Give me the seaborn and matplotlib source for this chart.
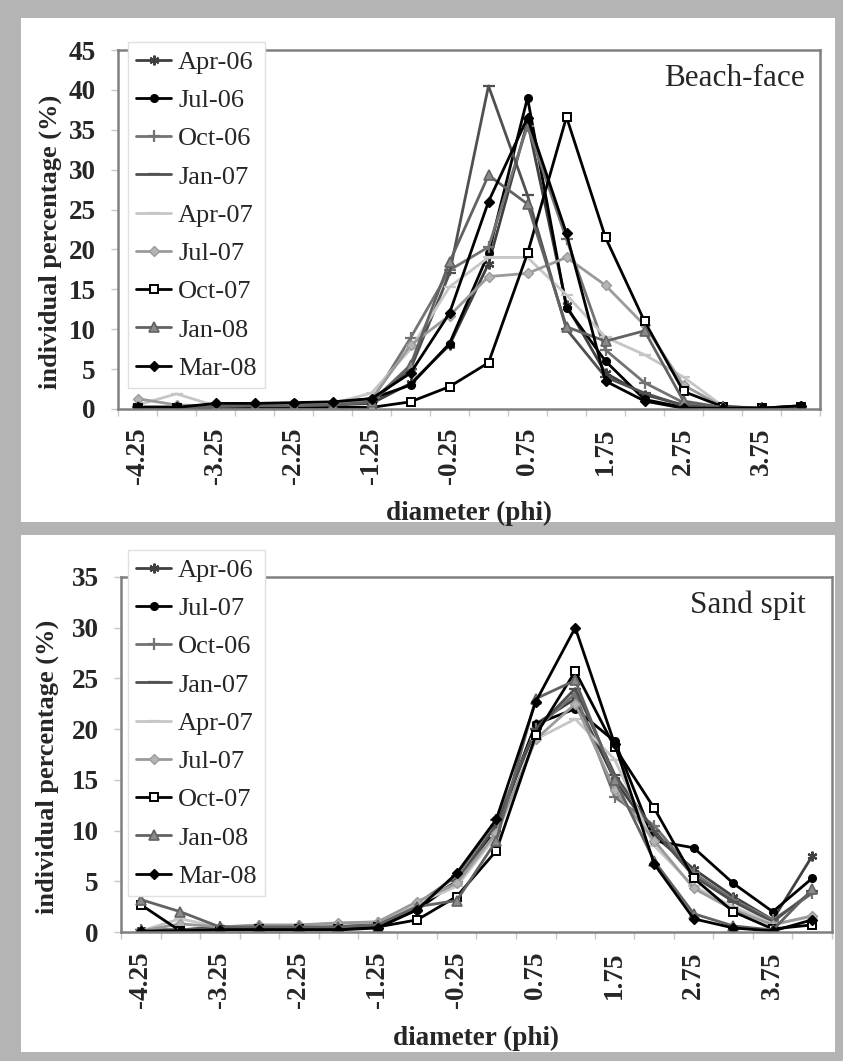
import numpy as np
import pandas as pd
import matplotlib
matplotlib.use("Agg")
import matplotlib.pyplot as plt
import seaborn as sns
from matplotlib.patches import Rectangle
from matplotlib.ticker import FixedLocator, NullFormatter

# ---------------- data ----------------
diameter = [-4.25, -3.75, -3.25, -2.75, -2.25, -1.75, -1.25, -0.75, -0.25,
            0.25, 0.75, 1.25, 1.75, 2.25, 2.75, 3.25, 3.75, 4.25]

beach_names = ["Apr-06", "Jul-06", "Oct-06", "Jan-07", "Apr-07",
               "Jul-07", "Oct-07", "Jan-08", "Mar-08"]
beach_apr06 = [0.1, 0.1, 0.3, 0.4, 0.5, 0.5, 0.7, 3.2, 8.0, 18.2, 36.0, 13.0, 4.5, 1.8, 0.5, 0.1, 0.1, 0.3]
beach_jul06 = [0.1, 0.1, 0.6, 0.6, 0.7, 0.8, 1.3, 3.0, 8.2, 19.5, 39.0, 12.7, 6.0, 1.2, 0.2, 0.1, 0.1, 0.4]
beach_oct06 = [0.3, 0.3, 0.4, 0.5, 0.5, 0.6, 1.0, 8.9, 17.4, 20.3, 35.5, 21.3, 7.4, 3.3, 0.8, 0.2, 0.1, 0.3]
beach_jan07 = [0.2, 0.2, 0.3, 0.4, 0.4, 0.5, 0.9, 5.0, 17.0, 40.5, 26.8, 10.0, 4.0, 2.0, 0.4, 0.1, 0.1, 0.2]
beach_apr07 = [0.5, 1.9, 0.4, 0.5, 0.5, 0.7, 2.0, 7.5, 15.3, 19.0, 19.0, 14.3, 9.0, 6.8, 4.0, 0.4, 0.1, 0.2]
beach_jul07 = [1.3, 0.5, 0.4, 0.4, 0.4, 0.5, 1.2, 8.0, 11.7, 16.6, 17.0, 19.0, 15.5, 10.5, 3.0, 0.3, 0.1, 0.2]
beach_oct07 = [0.1, 0.1, 0.2, 0.2, 0.2, 0.2, 0.2, 0.9, 2.8, 5.8, 19.5, 36.6, 21.5, 11.0, 2.2, 0.3, 0.1, 0.2]
beach_jan08 = [0.2, 0.2, 0.3, 0.4, 0.4, 0.5, 0.9, 5.5, 18.4, 29.3, 25.7, 10.3, 8.5, 9.8, 1.0, 0.2, 0.1, 0.2]
beach_mar08 = [0.2, 0.2, 0.7, 0.7, 0.8, 0.9, 1.3, 4.5, 12.0, 26.0, 36.5, 22.0, 3.5, 1.0, 0.1, 0.1, 0.1, 0.4]

spit_names = ["Apr-06", "Jul-07", "Oct-06", "Jan-07", "Apr-07",
              "Jul-07", "Oct-07", "Jan-08", "Mar-08"]
spit_apr06 = [0.2, 0.2, 0.4, 0.5, 0.5, 0.5, 0.7, 2.5, 5.0, 10.5, 20.5, 23.0, 15.0, 9.5, 6.2, 3.5, 1.2, 7.5]
spit_jul07b = [0.1, 0.1, 0.3, 0.3, 0.3, 0.3, 0.5, 2.2, 5.0, 10.0, 20.5, 22.0, 18.8, 9.0, 8.3, 4.8, 2.0, 5.3]
spit_oct06 = [0.2, 0.2, 0.5, 0.6, 0.6, 0.7, 0.9, 2.8, 5.5, 11.0, 20.0, 23.5, 13.3, 10.5, 5.8, 3.2, 1.2, 3.8]
spit_jan07 = [0.2, 0.2, 0.5, 0.6, 0.6, 0.7, 0.9, 2.6, 5.0, 10.5, 20.0, 24.0, 15.5, 10.0, 5.5, 3.0, 1.0, 4.0]
spit_apr07 = [0.1, 1.3, 0.5, 0.6, 0.6, 0.8, 1.0, 2.8, 4.5, 9.5, 19.0, 21.0, 17.0, 8.5, 4.5, 2.5, 0.8, 1.5]
spit_jul07 = [0.1, 0.8, 0.5, 0.7, 0.7, 0.9, 1.0, 3.0, 4.8, 9.8, 19.0, 22.5, 14.0, 9.0, 4.3, 2.2, 0.7, 1.6]
spit_oct07 = [2.7, 0.1, 0.2, 0.3, 0.3, 0.3, 0.5, 1.2, 3.5, 8.0, 19.4, 25.7, 18.2, 12.2, 5.3, 2.0, 0.3, 0.7]
spit_jan08 = [3.2, 2.0, 0.5, 0.5, 0.5, 0.5, 0.7, 2.5, 3.1, 9.0, 23.0, 24.8, 15.0, 7.0, 1.8, 0.6, 0.2, 4.2]
spit_mar08 = [0.1, 0.1, 0.2, 0.2, 0.2, 0.2, 0.4, 2.2, 5.8, 11.1, 22.7, 30.0, 18.5, 6.7, 1.3, 0.4, 0.1, 1.2]

beach_series = [beach_apr06, beach_jul06, beach_oct06, beach_jan07, beach_apr07,
                beach_jul07, beach_oct07, beach_jan08, beach_mar08]
spit_series = [spit_apr06, spit_jul07b, spit_oct06, spit_jan07, spit_apr07,
               spit_jul07, spit_oct07, spit_jan08, spit_mar08]

# ---------------- styles ----------------
styles = [
    dict(color="#404040", marker=(6, 2, 0), markersize=7, mfc="#404040", mec="#404040", mew=1.6),
    dict(color="#000000", marker="o", markersize=5.5, mfc="#000000", mec="#000000", mew=1.0),
    dict(color="#737373", marker="+", markersize=8, mfc="#737373", mec="#737373", mew=1.6),
    dict(color="#505050", marker="_", markersize=8, mfc="#505050", mec="#505050", mew=1.6),
    dict(color="#c6c6c6", marker="_", markersize=8, mfc="#c6c6c6", mec="#c6c6c6", mew=1.6),
    dict(color="#9a9a9a", marker="D", markersize=5, mfc="#b4b4b4", mec="#9a9a9a", mew=1.0),
    dict(color="#000000", marker="s", markersize=5.5, mfc="#ffffff", mec="#000000", mew=1.4),
    dict(color="#626262", marker="^", markersize=6.5, mfc="#8a8a8a", mec="#626262", mew=1.2),
    dict(color="#000000", marker="D", markersize=5.5, mfc="#000000", mec="#000000", mew=1.0),
]

sns.set_theme(style="white")
plt.rcParams["font.family"] = ["Liberation Serif", "DejaVu Serif"]

W, H = 843, 1061
fig = plt.figure(figsize=(W / 100, H / 100), dpi=100, facecolor="#b4b4b4")

# white panels
for (y0, y1) in [(18, 522), (535, 1052)]:
    fig.patches.append(Rectangle((21 / W, 1 - y1 / H), (835 - 21) / W, (y1 - y0) / H,
                                 transform=fig.transFigure, facecolor="white",
                                 edgecolor="none", zorder=-10))

pos = np.arange(len(diameter))


def draw_panel(rect_px, names, series, ymax, title, title_xy, legend_top_px,
               xlabel_y, ylabel_x, xtick_pad):
    l, r, t, b = rect_px
    ax = fig.add_axes([l / W, 1 - b / H, (r - l) / W, (b - t) / H])
    ax.set_facecolor("white")
    for name, vals, st in zip(names, series, styles):
        sns.lineplot(x=pos, y=vals, ax=ax, color=st["color"], marker=st["marker"],
                     markersize=st["markersize"], markerfacecolor=st["mfc"],
                     markeredgecolor=st["mec"], markeredgewidth=st["mew"],
                     linewidth=2.0, label=name, errorbar=None, sort=False)
    ax.set_xlim(-0.5, len(diameter) - 0.5)
    ax.set_ylim(0, ymax)
    ticks = np.arange(0, ymax + 1, 5)
    ax.yaxis.set_major_locator(FixedLocator(ticks))
    ax.set_yticklabels([f"{int(v)}" for v in ticks], fontweight="bold", fontsize=19.5)
    ax.xaxis.set_major_locator(FixedLocator(pos[::2][:9]))
    ax.set_xticklabels([f"{d:.2f}" for d in diameter[::2][:9]], rotation=90,
                       fontweight="bold", fontsize=19.5)
    ax.xaxis.set_minor_locator(FixedLocator(np.arange(-0.5, len(diameter), 1.0)))
    ax.xaxis.set_minor_formatter(NullFormatter())
    ax.tick_params(axis="x", which="major", length=0, pad=xtick_pad)
    ax.tick_params(axis="x", which="minor", length=5, width=1, color="#c8c8c8", direction="out", bottom=True)
    ax.tick_params(axis="y", which="major", length=5, width=1, color="#c8c8c8", direction="out", left=True, pad=11)
    for s in ax.spines.values():
        s.set_color("#808080")
        s.set_linewidth(1.8)
        s.set_visible(True)
    ax.set_xlabel("diameter (phi)", fontweight="bold", fontsize=19.5)
    ax.set_ylabel("individual percentage (%)", fontweight="bold", fontsize=19)
    ax.xaxis.set_label_coords(0.5, xlabel_y)
    ax.yaxis.set_label_coords(ylabel_x, 0.465)
    ax.text(title_xy[0], title_xy[1], title, transform=ax.transAxes, ha="right",
            va="center", fontsize=22.5)
    leg = ax.legend(loc="upper left", bbox_to_anchor=(128 / W, 1 - legend_top_px / H),
                    bbox_transform=fig.transFigure, borderaxespad=0, frameon=True,
                    fancybox=False, framealpha=1, edgecolor="#e0e0e0", facecolor="white",
                    fontsize=19, numpoints=1, handlelength=1.3, handletextpad=0.28,
                    labelspacing=0.56, borderpad=0.32)
    leg.get_frame().set_linewidth(1.0)
    leg.set_zorder(5)
    return ax


draw_panel((118, 820, 50, 409), beach_names, beach_series, 45, "Beach-face",
           (0.979, 0.92), 42, -0.255, -0.08, 13)
draw_panel((121, 832, 577, 932), spit_names, spit_series, 35, "Sand spit",
           (0.963, 0.92), 550, -0.265, -0.087, 14)

fig.savefig("out.png", dpi=100, facecolor=fig.get_facecolor())
